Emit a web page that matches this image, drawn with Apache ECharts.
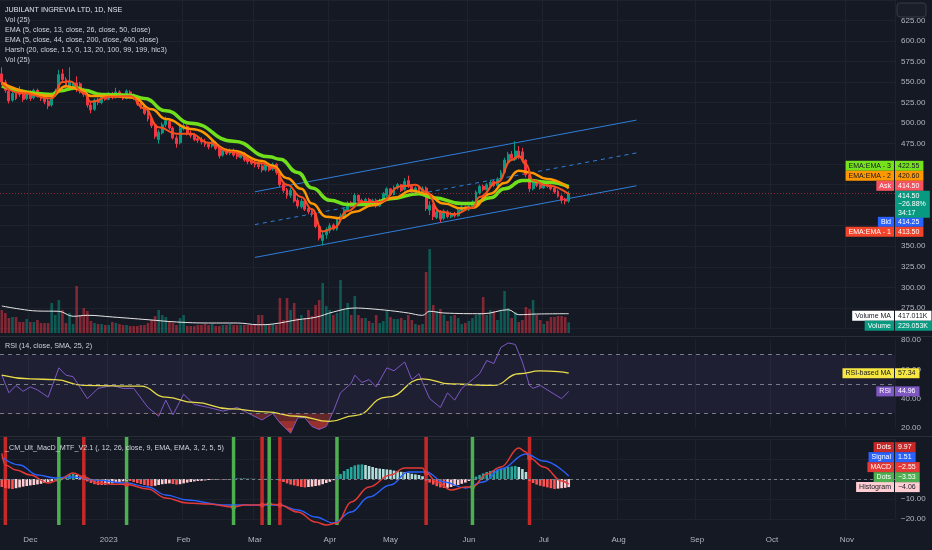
<!DOCTYPE html>
<html><head><meta charset="utf-8">
<script src="https://cdn.jsdelivr.net/npm/echarts/dist/echarts.min.js"></script>
<style>html,body{margin:0;padding:0;background:#151924;}#c{width:932px;height:550px;}</style>
</head><body><div id="c"></div>
<script>
// ---------- categories ----------
const startDate = '2022-11-21';
const totalBars = 251;
const holidays = ['2023-01-26','2023-03-07','2023-03-30','2023-04-04','2023-04-07','2023-04-14','2023-05-01','2023-06-28','2023-08-15','2023-10-02'];
const monthNames = ['Jan','Feb','Mar','Apr','May','Jun','Jul','Aug','Sep','Oct','Nov','Dec'];
function buildDates(){const out=[];const d=new Date(startDate+'T00:00:00Z');while(out.length<totalBars){const w=d.getUTCDay();const s=d.toISOString().slice(0,10);if(w!==0&&w!==6&&holidays.indexOf(s)<0)out.push(s);d.setUTCDate(d.getUTCDate()+1);}return out;}
const dates = buildDates();

// ---------- price candles [open, close, low, high] ----------
const candles = [
[560,550,546,568],[550,540,537,553],[539,527,524,541],[528,536,526,538],[536,530,528,539],
[540,535,532,545],[536,529,526,539],[530,536,528,538],[537,530,527,540],[531,540,529,542],
[540,533,531,542],[534,530,527,537],[531,526,523,534],[527,521,517,531],[522,535,520,537],
[534,539,532,542],[540,559,538,565],[560,553,549,566],[553,546,543,556],[545,550,541,568],
[543,549,540,551],[549,541,538,557],[548,539,536,550],[540,535,532,543],[535,522,519,537],
[522,516,512,526],[517,528,515,530],[529,525,522,531],[525,533,523,535],[533,529,527,536],
[529,536,528,538],[536,531,529,538],[531,538,530,543],[538,533,531,540],[534,530,528,536],
[530,539,529,541],[538,533,531,540],[534,530,528,536],[530,523,521,532],[524,520,517,526],
[521,512,510,523],[513,505,502,515],[506,497,494,508],[498,484,481,500],[480,489,475,492],
[488,498,486,501],[498,503,495,508],[502,494,492,504],[494,482,480,496],[482,475,470,485],
[476,494,474,497],[493,497,491,500],[496,487,485,498],[488,485,482,491],[486,480,478,488],
[481,479,476,484],[480,477,474,483],[478,474,471,481],[475,471,468,477],[472,476,470,479],
[476,469,467,478],[470,460,457,472],[461,467,459,469],[467,463,461,469],[463,467,461,469],
[467,461,459,469],[462,459,456,464],[458,463,457,465],[463,455,453,465],[457,453,450,459],
[455,451,449,457],[452,449,446,455],[450,447,444,453],[448,443,440,451],[443,449,441,452],
[449,443,441,451],[444,450,442,452],[450,440,437,451],[440,425,422,441],[426,418,415,428],
[419,412,408,421],[412,418,409,421],[417,405,403,419],[406,399,396,409],[398,405,396,408],
[405,395,393,407],[396,392,389,399],[393,389,386,396],[390,374,372,391],[374,360,357,376],
[357,364,351,368],[364,370,359,373],[369,375,366,378],[376,371,369,378],[371,383,369,385],
[382,387,379,390],[386,395,384,397],[394,402,392,405],[403,399,397,405],[398,412,397,415],
[412,405,403,413],[406,402,400,408],[402,407,400,409],[407,403,401,409],[403,406,401,408],
[406,399,397,408],[399,406,398,408],[406,414,405,416],[412,420,410,422],[420,413,411,421],
[413,422,412,424],[421,425,419,427],[425,418,416,426],[419,429,418,433],[430,423,421,436],
[423,416,414,424],[416,421,414,423],[421,416,414,422],[416,420,414,423],[421,396,393,423],
[394,400,388,405],[400,386,382,402],[385,392,383,394],[392,383,379,394],[384,393,382,395],
[392,386,384,394],[386,390,384,392],[390,387,385,392],[387,394,386,396],[393,398,391,400],
[398,395,393,400],[395,399,393,401],[399,404,397,406],[404,416,403,418],[415,423,413,425],
[423,419,417,425],[419,425,418,427],[424,428,422,431],[429,424,422,431],[424,432,423,434],
[431,440,430,443],[440,455,438,458],[452,462,450,465],[462,457,455,466],[456,466,454,478],
[466,458,456,472],[465,455,452,470],[455,437,434,456],[437,420,416,439],[420,429,418,431],
[429,424,422,431],[425,421,419,427],[421,428,420,430],[428,423,421,429],[424,420,418,426],
[421,416,414,422],[417,411,409,419],[411,406,402,413],[407,405,401,409],[405,414.5,403,417]
];
const lastPrice = 414.5;

// ---------- volume (thousands) ----------
const volumes = [
497,432,324,346,346,238,238,302,238,238,
281,216,216,216,648,389,713,497,216,432,
194,1015,389,540,475,259,216,194,194,173,
173,238,216,194,173,173,151,151,151,173,
173,216,281,367,497,389,346,259,216,173,
324,389,151,151,151,173,173,194,173,194,
151,151,173,173,194,173,173,173,173,173,
173,173,389,389,194,173,194,173,756,281,
756,497,648,324,389,324,497,367,605,713,
1080,583,497,389,432,1145,497,648,389,799,
389,324,324,259,216,389,216,259,475,346,
302,302,324,281,389,281,194,173,194,1318,
1814,605,475,518,389,259,367,389,324,194,
216,259,324,389,432,778,389,497,475,281,
497,907,540,324,454,238,281,562,518,713,
389,281,194,259,346,346,367,367,346,229
];
const volumeMA = [[0,583],[5,518],[10,475],[16,469],[20,361],[24,382],[31,346],[41,287],[49,238],[58,216],[66,216],[72,179],[76,194],[83,287],[88,339],[93,454],[99,540],[103,525],[109,482],[114,432],[118,382],[120,469],[124,432],[135,417],[142,503],[145,395],[150,410],[159,417.011]];

// ---------- EMA lines [bar, value] ----------
const emaSlow = [[0,545],[14,535],[16,539],[21,543],[23,540],[28,535],[36,534],[40,530],[46,515],[53,500],[65,478],[75,459],[78,456],[83,440],[87,421],[92,406],[97,401],[103,401],[109,408],[117,414],[121,409],[129,402],[132,402],[137,409],[141,420],[146,430],[148,430],[153,428],[159,422.55]];
const emaMid = [[0,549],[14,533],[18,545],[22,541],[25,533],[30,533],[37,531],[42,517],[46,505],[53,493],[65,466],[73,454],[76,448],[80,433],[84,420],[87,402],[91,386],[95,384],[99,392],[104,400],[110,409],[115,418],[119,414],[124,402],[129,396],[132,397],[137,414],[141,427],[145,442],[148,440],[153,432],[159,420.6]];
const emaFast = [[0,548],[5,537],[14,530],[17,550],[19,551],[23,537],[25,526],[30,532],[36,533],[40,518],[44,495],[49,487],[53,487],[58,476],[64,465],[73,451],[76,446],[80,425],[84,410],[87,395],[90,368],[93,372],[97,393],[101,404],[106,404],[112,423],[116,425],[119,416],[123,392],[127,389],[132,397],[134,410],[139,428],[143,455],[145,460],[147,450],[149,430],[153,424],[159,413.5]];

// ---------- channel drawing ----------
const channelUpper = [[71,416.4],[178,503.7]];
const channelMid = [[71,376.4],[178,463.7]];
const channelLower = [[71,336.4],[178,423.7]];

// ---------- RSI ----------
const rsi = [[0,56],[2,44],[4,49],[6,45],[8,48],[10,46],[13,41],[16,61],[18,56],[20,55],[24,40],[27,47],[31,49],[34,47],[37,47],[41,34],[44,28],[46,39],[48,29],[51,43],[54,36],[58,34],[62,31.5],[66,34],[70,29],[73,25.5],[76,30],[78,23.5],[81,16.5],[83,27],[85,27],[87,21],[89,19],[91,21],[93,31.5],[95,44],[98,50.5],[99,56],[101,51],[103,53],[105,48],[108,61],[110,59],[113,65],[115,53],[117,57],[118,51],[120,40],[123,34],[125,44],[127,39],[129,47],[131,51],[134,57],[136,66],[138,64],[140,75],[142,78],[144,77],[146,65],[148,49],[149,47],[151,49],[154,44.5],[157,40],[159,44.96]];
const rsiMA = [[0,56],[8,53.5],[15,53],[23,49],[39,48.5],[46,41],[54,37.5],[64,33],[74,31],[83,28],[92,24.5],[99,28.5],[108,41],[118,53.5],[126,50],[138,49],[145,57],[151,59],[156,58.5],[159,57.34]];
const rsiLevels = [70,50,30];

// ---------- MACD ----------
const macdLine = [[0,12.8],[1,7],[4,4.5],[8,2],[13,-2],[16,-0.5],[20,3],[23,1],[27,-2],[31,-2.6],[35,-2.7],[41,-5],[46,-9.5],[52,-12],[58,-12.5],[65,-14],[68,-13],[72,-13],[75,-12.5],[78,-13],[83,-16.5],[88,-21.5],[91,-23],[94,-22],[98,-11.5],[103,-4],[109,2],[113,5.5],[118,5.5],[119,3],[122,-1.5],[126,-5.5],[130,-4],[132,-4],[136,2.5],[140,6],[145,15.5],[147,13.5],[148,10.5],[152,6],[157,-1],[159,-2.55]];
const signalLine = [[0,11],[5,7],[10,2],[15,0.5],[20,1],[26,-0.5],[35,-2],[41,-4],[46,-8],[52,-10.5],[62,-13],[72,-13],[78,-13],[83,-15.5],[88,-19],[93,-22],[98,-16.5],[103,-9],[109,-3],[114,3.5],[119,3.5],[124,-1.5],[130,-4.5],[135,-1.5],[140,5],[147,12.5],[152,9],[159,1.51]];
const histogram = [
-4,-4.5,-4.8,-5,-4.6,-4.2,-3.8,-3.5,-3.2,-3,-2.7,-2.4,-2,-1.6,-1.2,-0.6,
0.4,1,1.6,2.2,2.5,2,1.2,
-0.5,-1.2,-2,-2.6,-3,-3,-2.8,-2.5,-2.2,-2,-1.6,-1.2,
-0.8,-1,-1.5,-2,-2.5,-3,-3.4,-3.6,-3.4,-3,-2.6,-2.4,-2.2,-2.5,-2.8,-2.6,-2.2,-1.8,-1.5,-1.2,-1,-0.9,-0.7,-0.5,-0.4,-0.3,-0.3,-0.4,-0.2,-0.1,
0.2,0.3,0.3,0.2,0.2,0.1,0.1,0,-0.2,0.1,0.2,0,-0.2,
-0.8,-1.5,-2.2,-2.8,-3.2,-3.6,-4,-4.2,-4,-3.8,-3.5,-3.2,-2.6,-2,-1.4,-0.6,
1.2,2.5,4,5,6,6.8,7.2,7.3,7,6.5,6,5.5,5.2,5,4.8,4.6,4.2,4,3.6,3.4,3,2.6,2.3,2,1.4,
-0.8,-1.8,-2.8,-3.6,-4.2,-4.5,-4.4,-4,-3.5,-3,-2.4,-1.8,-1,
0.4,1.2,2,2.8,3.5,4,4.4,4.8,5.2,5.6,6,6.3,6.5,6,5,3.5,
-1,-2,-2.8,-3.4,-3.8,-4.2,-4.6,-5,-4.8,-4.6,-4.4,-4.06
];
const macdGreenRanges = [[16,23],[65,73],[75,78],[94,119],[132,148]];
const signalBarsRed = [1,23,73,78,119,148];
const signalBarsGreen = [16,35,65,75,94,132];
const crossDots = [[16,-0.5,'g'],[23,1,'r'],[35,-2.7,'r'],[65,-14,'g'],[73,-13,'r'],[75,-12.5,'g'],[78,-13,'r'],[94,-22,'g'],[119,3,'r'],[132,-4,'g'],[148,10.5,'r']];

// ---------- texts ----------
const legendLines = ['JUBILANT INGREVIA LTD, 1D, NSE','Vol (25)','EMA (5, close, 13, close, 26, close, 50, close)','EMA (5, close, 44, close, 200, close, 400, close)','Harsh (20, close, 1.5, 0, 13, 20, 100, 99, 199, hlc3)','Vol (25)'];
const rsiTitle = 'RSI (14, close, SMA, 25, 2)';
const macdTitle = '_CM_Ult_MacD_MTF_V2.1 (, 12, 26, close, 9, EMA, EMA, 3, 2, 5, 5)';
const hiddenPriceTicks = [375,400,425,450];
const hiddenMacdTicks = [0,10];

// ================= chart =================
const FONT = '"Liberation Sans", Arial, sans-serif';
const UP = '#089981', DOWN = '#f23645';
const isMonthStart = dates.map((d,i)=> i>0 && d.slice(5,7)!==dates[i-1].slice(5,7));
const GRIDC = '#1e222d';
function xAx(gi, showLabel, showSplit){
  return {type:'category', gridIndex:gi, data:dates, boundaryGap:true,
    axisLine:{show:false}, axisTick:{show:false},
    axisLabel:{show:showLabel, interval:(i)=>isMonthStart[i], margin:11, color:'#b2b5be', fontSize:8, fontFamily:FONT,
      formatter:(v)=>{const m=+v.slice(5,7)-1;return m===0? v.slice(0,4): monthNames[m];}},
    splitLine:{show:showSplit, interval:(i)=>isMonthStart[i], lineStyle:{color:GRIDC,width:1}}};
}
const minus = v => (v<0?'\u2212':'')+Math.abs(v).toFixed(2);
function yAx(gi,min,max,interval,hidden){
  return {type:'value', gridIndex:gi, position:'right', min, max, interval,
    axisLine:{show:false}, axisTick:{show:false},
    axisLabel:{margin:6, align:'left', color:'#b2b5be', fontSize:8, fontFamily:FONT,
      formatter:(v)=> (hidden && hidden.indexOf(v)>=0) ? '' : minus(v), showMinLabel:true, showMaxLabel:true},
    splitLine:{show:true, lineStyle:{color:GRIDC,width:1}}};
}
const y0 = yAx(0,250,650,25,hiddenPriceTicks); y0.axisLabel.showMinLabel=false; y0.axisLabel.showMaxLabel=false;
const y2 = yAx(2,20,80,20); y2.splitLine.show=false;
const y3 = yAx(3,-20,20,10,hiddenMacdTicks); y3.axisLabel.showMaxLabel=false;

const volData = volumes.map((v,i)=>({value:v, itemStyle:{color: candles[i][1]>=candles[i][0]? 'rgba(8,153,129,0.5)':'rgba(242,54,69,0.5)'}}));
const histData = histogram.map((v,i)=>{const p=i>0?histogram[i-1]:v;let c;
  if(v>=0) c = v>=p? '#26a69a':'#b2dfdb'; else c = v<=p? '#ff5252':'#ffcdd2';
  return {value:v, itemStyle:{color:c}};});
const sigData = dates.map((d,i)=> signalBarsRed.indexOf(i)>=0 ? {value:1,itemStyle:{color:'#c62828'}} : (signalBarsGreen.indexOf(i)>=0 ? {value:1,itemStyle:{color:'#4caf50'}} : null));
const dotData = crossDots.map(d=>({value:[d[0],d[1]], itemStyle:{color: d[2]==='g'?'#4caf50':'#e53935'}}));

const macdPieces=[]; let prev=0;
macdGreenRanges.forEach(r=>{macdPieces.push({gte:prev, lt:r[0], color:'#e53935'}); macdPieces.push({gte:r[0], lt:r[1], color:'#4caf50'}); prev=r[1];});
macdPieces.push({gte:prev, color:'#e53935'});

const lineS = (xi,yi,data,color,width,extra)=>Object.assign({type:'line', xAxisIndex:xi, yAxisIndex:yi, data, symbol:'none', silent:true,
  lineStyle:{color,width}, itemStyle:{color}, emphasis:{disabled:true}}, extra||{});

const option = {
  backgroundColor:'#151924', animation:false,
  grid:[
    {left:0,right:37,top:-1.65,height:330},
    {left:0,right:37,top:240,height:93},
    {left:0,right:37,top:340,height:88},
    {left:0,right:37,top:439,height:80},
    {left:0,right:37,top:437,height:88}
  ],
  xAxis:[xAx(0,false,true),xAx(1,false,false),xAx(2,false,true),xAx(3,false,true),xAx(4,true,false)],
  yAxis:[y0,{type:'value',gridIndex:1,min:0,max:2009,show:false},y2,y3,{type:'value',gridIndex:4,min:0,max:1,show:false}],
  visualMap:[
    {type:'piecewise', show:false, seriesIndex:15, dimension:0, pieces:macdPieces},
    {type:'piecewise', show:false, seriesIndex:9, dimension:1, pieces:[
      {lt:20, color:'rgba(235,70,60,0.95)'},{gte:20,lt:25,color:'rgba(190,55,50,0.9)'},{gte:25,lt:30,color:'rgba(130,45,45,0.85)'},{gte:30,color:'rgba(0,0,0,0)'}]}
  ],
  series:[
    {type:'bar', xAxisIndex:1, yAxisIndex:1, data:volData, barWidth:2.6, silent:true, z:1},
    lineS(1,1,volumeMA,'#e6e6e6',1,{smooth:0.4,z:2}),
    lineS(0,0,channelUpper,'#2f7ed8',1,{z:2}),
    lineS(0,0,channelMid,'#2f7ed8',1,{z:2,lineStyle:{color:'#2f7ed8',width:1,type:[4,4]}}),
    lineS(0,0,channelLower,'#2f7ed8',1,{z:2}),
    {type:'candlestick', xAxisIndex:0, yAxisIndex:0, data:candles, barWidth:2.4, silent:true, z:3,
      itemStyle:{color:UP,color0:DOWN,borderColor:UP,borderColor0:DOWN,borderWidth:1},
      markLine:{silent:true, symbol:['none','none'], label:{show:false}, lineStyle:{color:'rgba(242,54,69,0.55)',type:[1,2],width:1}, data:[{yAxis:lastPrice}]}},
    lineS(0,0,emaSlow,'#6fe01b',3.5,{smooth:0.5,smoothMonotone:'x',z:4}),
    lineS(0,0,emaMid,'#ff9800',2.5,{smooth:0.5,smoothMonotone:'x',z:5}),
    lineS(0,0,emaFast,'#f4511e',2,{smooth:0.5,smoothMonotone:'x',z:6}),
    lineS(2,2,rsi,'rgba(0,0,0,0)',0,{clip:false,areaStyle:{origin:30,opacity:0.85},z:2}),
    lineS(2,2,rsi,'#7e57c2',1,{clip:false,z:3,
      markArea:{silent:true,itemStyle:{color:'rgba(126,87,194,0.1)'},data:[[{yAxis:30},{yAxis:70}]]},
      markLine:{silent:true,symbol:['none','none'],label:{show:false},lineStyle:{color:'#787b86',type:[4,4],width:1},data:rsiLevels.map(v=>({yAxis:v}))}}),
    lineS(2,2,rsiMA,'#e8dc4a',1.3,{smooth:0.5,smoothMonotone:'x',z:4}),
    {type:'bar', xAxisIndex:4, yAxisIndex:4, data:sigData, barWidth:3.5, silent:true, z:1},
    {type:'bar', xAxisIndex:3, yAxisIndex:3, data:histData, barWidth:2.6, silent:true, z:2,
      markLine:{silent:true,symbol:['none','none'],label:{show:false},lineStyle:{color:'#787b86',type:[3,3],width:1},data:[{yAxis:0}]}},
    lineS(3,3,signalLine,'#2962ff',1.3,{smooth:0.4,smoothMonotone:'x',clip:false,z:3}),
    lineS(3,3,macdLine,'#e53935',1.5,{smooth:0.4,smoothMonotone:'x',clip:false,z:4}),
    {type:'scatter', xAxisIndex:3, yAxisIndex:3, data:dotData, symbolSize:5, silent:true, z:5}
  ]
};
const chart = echarts.init(document.getElementById('c'), null, {renderer:'canvas'});
chart.setOption(option);

// ---------- annotations ----------
const txt = (x,y,text,opts)=>({type:'text', x, y, z:100, silent:true, style:Object.assign({text, fill:'#d1d4dc', fontSize:7.2, fontFamily:FONT, verticalAlign:'middle', align:'left'}, opts||{})});
function tag(name, value, yc, bg, fg){
  const els=[];
  const st={fill:fg, backgroundColor:bg, lineHeight:8, fontSize:7, fontFamily:FONT, verticalAlign:'middle'};
  if(name) els.push({type:'text', x:894, y:yc, z:100, silent:true, style:Object.assign({text:name, align:'right', padding:[1,3,1,3]}, st)});
  els.push({type:'text', x:895, y:yc, z:100, silent:true, style:Object.assign({text:value, align:'left', padding:[1,4,1,3]}, st)});
  return els;
}
const P = v=>chart.convertToPixel({yAxisIndex:0},v);
const V = v=>chart.convertToPixel({yAxisIndex:1},v);
const R = v=>chart.convertToPixel({yAxisIndex:2},v);
const M = v=>chart.convertToPixel({yAxisIndex:3},v);
const g = [];
g.push({type:'line', shape:{x1:0,y1:336.5,x2:932,y2:336.5}, style:{stroke:'#2a2e39',lineWidth:1}, z:90, silent:true});
g.push({type:'line', shape:{x1:0,y1:436.5,x2:932,y2:436.5}, style:{stroke:'#2a2e39',lineWidth:1}, z:90, silent:true});
g.push({type:'rect', shape:{x:897,y:3,width:29,height:14,r:3}, style:{fill:'#1a1e29',stroke:'#363a45',lineWidth:1}, z:90, silent:true});
legendLines.forEach((t,i)=>g.push(txt(5,10+i*10,t, i===0?{fill:'#e0e3eb'}:{})));
g.push(txt(5,346,rsiTitle));
g.push(txt(5,448,macdTitle));
const yp = P(lastPrice);
g.push(...tag('EMA:EMA - 3','422.55',yp-27.5,'#76e21c','#131722'));
g.push(...tag('EMA:EMA - 2','420.60',yp-17.5,'#ff9800','#131722'));
g.push(...tag('Ask','414.50',yp-7.5,'#f7525f','#ffffff'));
g.push({type:'text', x:895, y:yp-2.5, z:101, silent:true, style:{text:'414.50\n\u221226.88%\n34:17', fill:'#ffffff', backgroundColor:'#089981', padding:[1,4,1,3], lineHeight:8.3, fontSize:7, fontFamily:FONT, verticalAlign:'top', align:'left'}});
g.push(...tag('Bid','414.25',yp+28.5,'#2962ff','#ffffff'));
g.push(...tag('EMA:EMA - 1','413.50',yp+38.5,'#f2442a','#ffffff'));
const vm = V(417.011)+2;
g.push(...tag('Volume MA','417.011K',vm,'#ffffff','#131722'));
g.push(...tag('Volume','229.053K',vm+10,'#089981','#ffffff'));
g.push(...tag('RSI-based MA','57.34',R(57.34),'#f5e642','#131722'));
g.push(...tag('RSI','44.96',R(44.96),'#7e57c2','#ffffff'));
const hy = M(-4.06);
g.push(...tag('Histogram','\u22124.06',hy,'#ffcdd2','#131722'));
g.push(...tag('Dots','\u22123.53',hy-10,'#4caf50','#ffffff'));
g.push(...tag('MACD','\u22122.55',hy-20,'#e53935','#ffffff'));
g.push(...tag('Signal','1.51',hy-30,'#2962ff','#ffffff'));
g.push(...tag('Dots','9.97',hy-40,'#c62828','#ffffff'));
chart.setOption({graphic:g});
</script></body></html>
